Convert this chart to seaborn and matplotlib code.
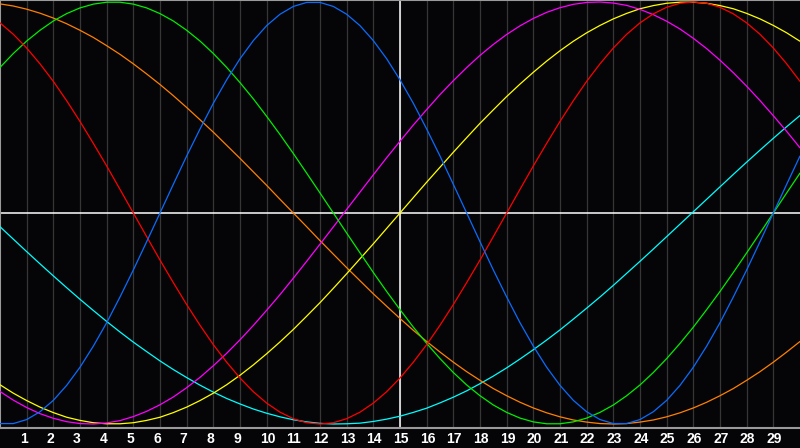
import numpy as np
import pandas as pd
import seaborn as sns
import matplotlib.pyplot as plt
import matplotlib.transforms as mtransforms

#half-day steps from 0 to 30
days = [i / 2 for i in range(61)]

#cycle values, one per half day
blue = [-0.998, -0.998, -0.979, -0.942, -0.888, -0.817, -0.731, -0.631, -0.520, -0.398,
        -0.270, -0.136, 0.000, 0.136, 0.270, 0.398, 0.520, 0.631, 0.731, 0.817,
        0.888, 0.942, 0.979, 0.998, 0.998, 0.979, 0.942, 0.888, 0.817, 0.731,
        0.631, 0.520, 0.398, 0.270, 0.136, 0.000, -0.136, -0.270, -0.398, -0.520,
        -0.631, -0.731, -0.817, -0.888, -0.942, -0.979, -0.998, -0.998, -0.979, -0.942,
        -0.888, -0.817, -0.731, -0.631, -0.520, -0.398, -0.270, -0.136, 0.000, 0.136,
        0.270]
red = [0.901, 0.847, 0.782, 0.707, 0.624, 0.532, 0.434, 0.330, 0.223, 0.112,
       0.000, -0.112, -0.223, -0.330, -0.434, -0.532, -0.624, -0.707, -0.782, -0.847,
       -0.901, -0.944, -0.975, -0.994, -1.000, -0.994, -0.975, -0.944, -0.901, -0.847,
       -0.782, -0.707, -0.624, -0.532, -0.434, -0.330, -0.223, -0.112, 0.000, 0.112,
       0.223, 0.330, 0.434, 0.532, 0.624, 0.707, 0.782, 0.847, 0.901, 0.944,
       0.975, 0.994, 1.000, 0.994, 0.975, 0.944, 0.901, 0.847, 0.782, 0.707,
       0.624]
green = [0.690, 0.756, 0.815, 0.866, 0.910, 0.945, 0.972, 0.990, 0.999, 0.999,
         0.990, 0.972, 0.945, 0.910, 0.866, 0.815, 0.756, 0.690, 0.618, 0.541,
         0.458, 0.372, 0.282, 0.189, 0.095, 0.000, -0.095, -0.189, -0.282, -0.372,
         -0.458, -0.541, -0.618, -0.690, -0.756, -0.815, -0.866, -0.910, -0.945, -0.972,
         -0.990, -0.999, -0.999, -0.990, -0.972, -0.945, -0.910, -0.866, -0.815, -0.756,
         -0.690, -0.618, -0.541, -0.458, -0.372, -0.282, -0.189, -0.095, 0.000, 0.095,
         0.189]
magenta = [-0.846, -0.887, -0.922, -0.951, -0.973, -0.989, -0.998, -1.000, -0.995, -0.984,
           -0.965, -0.940, -0.909, -0.872, -0.828, -0.779, -0.724, -0.665, -0.601, -0.533,
           -0.461, -0.387, -0.309, -0.229, -0.148, -0.066, 0.017, 0.099, 0.181, 0.262,
           0.340, 0.417, 0.490, 0.561, 0.627, 0.689, 0.747, 0.799, 0.846, 0.887,
           0.922, 0.951, 0.973, 0.989, 0.998, 1.000, 0.995, 0.984, 0.965, 0.940,
           0.909, 0.872, 0.828, 0.779, 0.724, 0.665, 0.601, 0.533, 0.461, 0.387,
           0.309]
yellow = [-0.814, -0.854, -0.889, -0.920, -0.946, -0.968, -0.983, -0.994, -0.999, -0.999,
          -0.994, -0.983, -0.968, -0.946, -0.920, -0.889, -0.854, -0.814, -0.769, -0.720,
          -0.667, -0.611, -0.552, -0.489, -0.425, -0.357, -0.288, -0.217, -0.146, -0.073,
          0.000, 0.073, 0.146, 0.217, 0.288, 0.357, 0.425, 0.489, 0.552, 0.611,
          0.667, 0.720, 0.769, 0.814, 0.854, 0.889, 0.920, 0.946, 0.968, 0.983,
          0.994, 0.999, 0.999, 0.994, 0.983, 0.968, 0.946, 0.920, 0.889, 0.854,
          0.814]
orange = [0.991, 0.981, 0.966, 0.947, 0.924, 0.897, 0.866, 0.832, 0.793, 0.752,
          0.707, 0.659, 0.609, 0.556, 0.500, 0.442, 0.383, 0.321, 0.259, 0.195,
          0.131, 0.065, 0.000, -0.065, -0.131, -0.195, -0.259, -0.321, -0.383, -0.442,
          -0.500, -0.556, -0.609, -0.659, -0.707, -0.752, -0.793, -0.832, -0.866, -0.897,
          -0.924, -0.947, -0.966, -0.981, -0.991, -0.998, -1.000, -0.998, -0.991, -0.981,
          -0.966, -0.947, -0.924, -0.897, -0.866, -0.832, -0.793, -0.752, -0.707, -0.659,
          -0.609]
cyan = [-0.065, -0.124, -0.183, -0.241, -0.298, -0.354, -0.409, -0.462, -0.514, -0.564,
        -0.612, -0.657, -0.701, -0.742, -0.780, -0.816, -0.849, -0.879, -0.905, -0.929,
        -0.949, -0.966, -0.980, -0.990, -0.997, -1.000, -0.999, -0.996, -0.988, -0.977,
        -0.963, -0.945, -0.925, -0.900, -0.873, -0.843, -0.809, -0.773, -0.734, -0.692,
        -0.648, -0.602, -0.554, -0.503, -0.451, -0.398, -0.343, -0.286, -0.229, -0.171,
        -0.112, -0.053, 0.006, 0.065, 0.124, 0.183, 0.241, 0.298, 0.354, 0.409,
        0.462]

#tick labels along the bottom
tick_days = list(range(1, 30))
tick_labels = [str(d) for d in tick_days]

#line colours
palette = {'cyan': '#00ffff', 'orange': '#ff8000', 'yellow': '#ffff00',
           'magenta': '#ff00ff', 'green': '#00ee00', 'red': '#ff0000',
           'blue': '#0a6cff'}

if __name__ == '__main__':
    series = {'cyan': cyan, 'orange': orange, 'yellow': yellow, 'magenta': magenta,
              'green': green, 'red': red, 'blue': blue}
    df = pd.concat([pd.DataFrame({'day': days, 'value': v, 'cycle': k})
                    for k, v in series.items()], ignore_index=True)

    sns.set_style('dark')
    plt.rcParams['font.family'] = ['Liberation Sans', 'DejaVu Sans']

    fig = plt.figure(figsize=(8, 4.48), dpi=100, facecolor='#050508')
    ax = fig.add_axes([0, 20 / 448, 1, 428 / 448])
    ax.set_facecolor('#050508')

    #day grid lines
    for d in tick_days:
        ax.axvline(d, color='#363636', lw=0.9, zorder=1)

    #crosshair
    ax.axhline(0, color='white', lw=1.1, zorder=2)
    ax.axvline(15, color='white', lw=1.1, zorder=2)

    sns.lineplot(data=df, x='day', y='value', hue='cycle', palette=palette,
                 hue_order=list(series.keys()), lw=0.9, legend=False, ax=ax,
                 zorder=3)

    ax.set_xlim(0, 30)
    ax.set_ylim(-1.019, 1.0095)
    ax.set_xlabel('')
    ax.set_ylabel('')
    ax.set_yticks([])
    ax.grid(False)

    ax.set_xticks(tick_days)
    ax.set_xticklabels(tick_labels, color='white', fontweight='bold', fontsize=10)
    ax.tick_params(axis='x', length=0, pad=3)
    shift = mtransforms.ScaledTranslation(-7 / 100, 0, fig.dpi_scale_trans)
    for lab in ax.get_xticklabels():
        lab.set_horizontalalignment('left')
        lab.set_transform(lab.get_transform() + shift)

    for side in ['left', 'top', 'bottom']:
        ax.spines[side].set_visible(True)
        ax.spines[side].set_color('#9a9a9a')
        ax.spines[side].set_linewidth(1.5)
    ax.spines['right'].set_visible(False)

    fig.savefig('out.png', dpi=100, facecolor=fig.get_facecolor())
